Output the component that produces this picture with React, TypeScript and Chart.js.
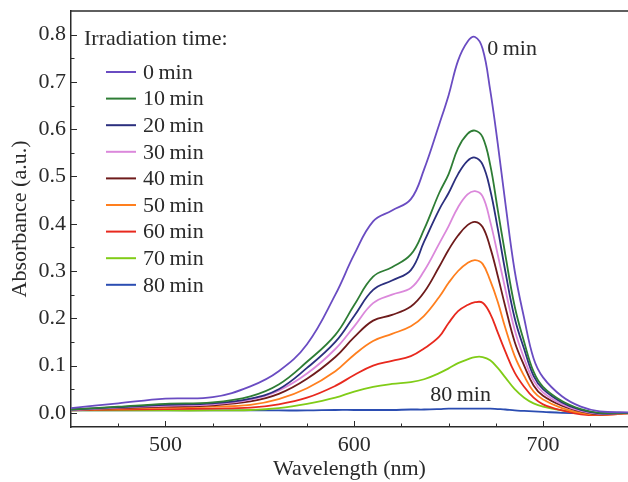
import React, { useEffect, useRef } from "react";
import { Chart, registerables } from "chart.js";

Chart.register(...registerables);

// Wavelength grid (nm)
const wavelengths = [450, 475, 500, 525, 545, 560, 575, 590, 600, 610, 620, 630, 637, 645, 650, 655, 660, 664, 668, 672, 676, 680, 685, 690, 695, 700, 710, 720, 730, 745];

const seriesLabels = ["0\u2009min", "10\u2009min", "20\u2009min", "30\u2009min", "40\u2009min", "50\u2009min", "60\u2009min", "70\u2009min", "80\u2009min"];
const seriesColors = ["#6A4CC2", "#2E7D35", "#2B2F7E", "#DB88DB", "#6E1B1B", "#FF7F1E", "#E8291E", "#80CC17", "#2B4DB2"];

const abs0 = [0.010, 0.020, 0.030, 0.033, 0.056, 0.088, 0.145, 0.250, 0.335, 0.405, 0.428, 0.452, 0.515, 0.610, 0.672, 0.745, 0.785, 0.795, 0.770, 0.683, 0.570, 0.445, 0.300, 0.200, 0.115, 0.075, 0.035, 0.013, 0.003, 0.001];
const abs10 = [0.007, 0.013, 0.019, 0.022, 0.035, 0.060, 0.108, 0.165, 0.228, 0.288, 0.308, 0.335, 0.388, 0.465, 0.505, 0.560, 0.590, 0.597, 0.583, 0.525, 0.430, 0.335, 0.225, 0.150, 0.087, 0.055, 0.025, 0.008, 0.000, 0.000];
const abs20 = [0.007, 0.012, 0.017, 0.020, 0.030, 0.050, 0.095, 0.150, 0.205, 0.260, 0.280, 0.302, 0.362, 0.430, 0.465, 0.505, 0.533, 0.540, 0.525, 0.472, 0.390, 0.300, 0.200, 0.135, 0.078, 0.050, 0.022, 0.006, -0.001, 0.000];
const abs30 = [0.006, 0.011, 0.015, 0.018, 0.028, 0.047, 0.083, 0.135, 0.183, 0.232, 0.250, 0.264, 0.300, 0.358, 0.395, 0.435, 0.462, 0.469, 0.458, 0.405, 0.335, 0.262, 0.175, 0.115, 0.068, 0.043, 0.018, 0.004, -0.002, 0.000];
const abs40 = [0.006, 0.010, 0.013, 0.016, 0.024, 0.040, 0.072, 0.118, 0.160, 0.195, 0.207, 0.225, 0.255, 0.309, 0.345, 0.375, 0.397, 0.404, 0.393, 0.350, 0.290, 0.225, 0.150, 0.100, 0.058, 0.036, 0.015, 0.003, -0.003, 0.000];
const abs50 = [0.006, 0.009, 0.011, 0.013, 0.017, 0.029, 0.052, 0.088, 0.123, 0.152, 0.167, 0.183, 0.205, 0.245, 0.275, 0.300, 0.317, 0.323, 0.315, 0.280, 0.235, 0.180, 0.120, 0.078, 0.045, 0.028, 0.010, 0.000, -0.004, -0.001];
const abs60 = [0.005, 0.007, 0.008, 0.009, 0.011, 0.018, 0.032, 0.057, 0.080, 0.100, 0.110, 0.120, 0.136, 0.161, 0.190, 0.215, 0.228, 0.234, 0.233, 0.210, 0.170, 0.130, 0.085, 0.055, 0.032, 0.018, 0.005, -0.003, -0.005, -0.001];
const abs70 = [0.005, 0.005, 0.005, 0.005, 0.006, 0.010, 0.019, 0.032, 0.045, 0.055, 0.061, 0.065, 0.071, 0.084, 0.094, 0.105, 0.113, 0.118, 0.118, 0.111, 0.095, 0.075, 0.050, 0.032, 0.020, 0.013, 0.005, 0.000, -0.002, 0.000];
const abs80 = [0.005, 0.005, 0.005, 0.005, 0.005, 0.005, 0.005, 0.006, 0.006, 0.006, 0.006, 0.007, 0.007, 0.008, 0.009, 0.009, 0.009, 0.009, 0.009, 0.009, 0.008, 0.007, 0.005, 0.004, 0.003, 0.002, 0.000, -0.001, -0.001, -0.001];

const seriesValues = [abs0, abs10, abs20, abs30, abs40, abs50, abs60, abs70, abs80];

const xTickValues = [500, 600, 700];
const yTickValues = [0, 0.1, 0.2, 0.3, 0.4, 0.5, 0.6, 0.7, 0.8];
const xMinorStep = 25;
const yMinorStep = 0.05;
const xRange = [450, 745];
const yRange = [-0.03, 0.85];

const xTitle = "Wavelength (nm)";
const yTitle = "Absorbance (a.u.)";
const legendTitle = "Irradiation time:";
const curveNotes = [
  { text: "0\u2009min", x: 670.5, y: 0.77 },
  { text: "80\u2009min", x: 640.3, y: 0.038 },
];

const FONT = "'Liberation Serif', 'Times New Roman', serif";
const INK = "#2a2a2a";
const FS = 22;

const decorPlugin = {
  id: "decor",
  afterDraw(chart: any) {
    const { ctx, chartArea: ca, scales } = chart;
    const xs = scales.x;
    const ys = scales.y;
    ctx.save();
    ctx.strokeStyle = INK;
    // top frame line
    ctx.lineWidth = 1.5;
    ctx.beginPath();
    ctx.moveTo(ca.left, ca.top);
    ctx.lineTo(ca.right, ca.top);
    ctx.stroke();
    // inward ticks
    ctx.lineWidth = 1;
    ctx.beginPath();
    const nx = Math.round((xRange[1] - xRange[0]) / xMinorStep) + 2;
    for (let i = 0; i < nx; i++) {
      const v = Math.ceil(xRange[0] / xMinorStep) * xMinorStep + i * xMinorStep;
      if (v <= xRange[0] || v >= xRange[1]) continue;
      const major = xTickValues.some((t) => Math.abs(t - v) < 1e-6);
      const px = Math.round(xs.getPixelForValue(v)) + 0.5;
      ctx.moveTo(px, ca.bottom);
      ctx.lineTo(px, ca.bottom - (major ? 6 : 3.5));
    }
    const ny = Math.round((yRange[1] - yRange[0]) / yMinorStep) + 2;
    for (let i = 0; i < ny; i++) {
      const v = Math.ceil(yRange[0] / yMinorStep) * yMinorStep + i * yMinorStep;
      if (v <= yRange[0] || v >= yRange[1] - 0.001) continue;
      const major = yTickValues.some((t) => Math.abs(t - v) < 1e-6);
      const py = Math.round(ys.getPixelForValue(v)) + 0.5;
      ctx.moveTo(ca.left, py);
      ctx.lineTo(ca.left + (major ? 6 : 3.5), py);
    }
    ctx.stroke();

    // legend
    ctx.fillStyle = INK;
    ctx.font = `${FS}px ${FONT}`;
    ctx.textBaseline = "middle";
    ctx.textAlign = "left";
    ctx.fillText(legendTitle, ca.left + 13, ca.top + 28);
    chart.data.datasets.forEach((ds: any, i: number) => {
      const yy = ca.top + 61 + i * 26.6;
      ctx.strokeStyle = ds.borderColor;
      ctx.lineWidth = 2;
      ctx.beginPath();
      ctx.moveTo(ca.left + 35, yy);
      ctx.lineTo(ca.left + 65, yy);
      ctx.stroke();
      ctx.fillStyle = INK;
      ctx.fillText(ds.label, ca.left + 72, yy + 1);
    });

    // curve notes
    curveNotes.forEach((n) => {
      ctx.fillText(n.text, xs.getPixelForValue(n.x), ys.getPixelForValue(n.y));
    });
    ctx.restore();
  },
};

export default function App() {
  const ref = useRef<HTMLCanvasElement | null>(null);
  useEffect(() => {
    if (!ref.current) return;
    const chart = new Chart(ref.current, {
      type: "line",
      data: {
        datasets: seriesValues.map((vals, i) => ({
          label: seriesLabels[i],
          data: wavelengths.map((w, j) => ({ x: w, y: vals[j] })),
          borderColor: seriesColors[i],
          backgroundColor: seriesColors[i],
          borderWidth: 1.8,
          pointRadius: 0,
          fill: false,
          tension: 0.4,
        })),
      },
      options: {
        animation: false,
        responsive: false,
        maintainAspectRatio: false,
        layout: { padding: { top: 11, right: 0, left: 0, bottom: 0 } },
        plugins: { legend: { display: false }, tooltip: { enabled: false } },
        scales: {
          x: {
            type: "linear",
            min: xRange[0],
            max: xRange[1],
            afterBuildTicks: (s: any) => {
              s.ticks = xTickValues.map((v) => ({ value: v }));
            },
            afterFit: (s: any) => {
              s.height = 55;
              s.paddingLeft = 0;
              s.paddingRight = 0;
            },
            grid: { display: false, drawTicks: false },
            border: { display: true, color: INK, width: 1.5 },
            ticks: {
              color: INK,
              font: { family: FONT, size: FS },
              padding: 5,
              maxRotation: 0,
              callback: (v: any) => String(v),
            },
            title: {
              display: true,
              text: xTitle,
              color: INK,
              font: { family: FONT, size: FS },
              padding: { top: 0, bottom: 0 },
            },
          },
          y: {
            type: "linear",
            min: yRange[0],
            max: yRange[1],
            afterBuildTicks: (s: any) => {
              s.ticks = yTickValues.map((v) => ({ value: v }));
            },
            afterFit: (s: any) => {
              s.width = 71;
              s.paddingTop = 0;
              s.paddingBottom = 0;
            },
            grid: { display: false, drawTicks: false },
            border: { display: true, color: INK, width: 1.5 },
            ticks: {
              color: INK,
              font: { family: FONT, size: FS },
              padding: 5,
              callback: (v: any) => Number(v).toFixed(1),
            },
            title: {
              display: true,
              text: yTitle,
              color: INK,
              font: { family: FONT, size: FS },
              padding: { top: 7, bottom: 0 },
            },
          },
        },
      },
      plugins: [decorPlugin],
    });
    return () => chart.destroy();
  }, []);
  return (
    <div style={{ position: "fixed", left: 0, top: 0, width: 628, height: 482, background: "#fff" }}>
      <canvas ref={ref} width={628} height={482} style={{ width: 628, height: 482, display: "block" }} />
    </div>
  );
}
